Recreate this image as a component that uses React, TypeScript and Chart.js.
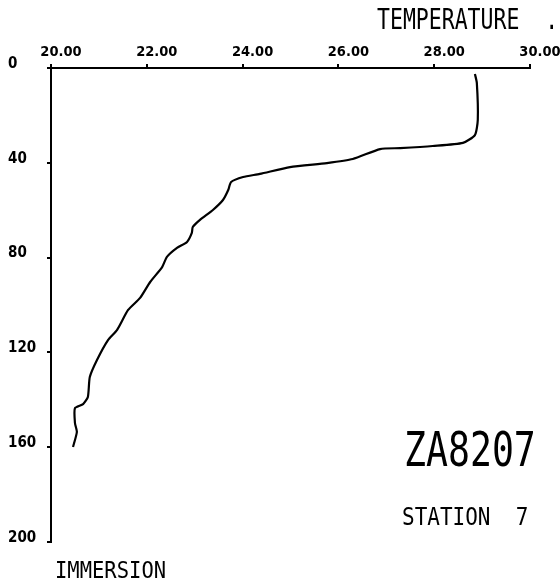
import React, { useEffect, useRef } from "react";
import { Chart, registerables } from "chart.js";

Chart.register(...registerables);

const temperature = [
  28.85, 28.89, 28.91, 28.85, 28.6, 27.97, 27.29, 26.87, 26.3, 25.76, 24.99, 24.36, 24.01,
  23.76, 23.7, 23.59, 23.38, 23.11, 22.96, 22.94, 22.84, 22.63, 22.42, 22.32, 22.07, 21.86,
  21.61, 21.38, 21.19, 20.96, 20.81, 20.77, 20.67, 20.5, 20.5, 20.54, 20.46,
];
const immersion = [
  2.5, 6.3, 21.9, 28.3, 31.6, 32.9, 33.8, 34.2, 38.4, 40.1, 41.8, 44.7, 46.0,
  48.1, 51.5, 55.7, 59.9, 64.1, 67.1, 69.6, 73.4, 75.9, 79.7, 84.0, 90.3, 97.0,
  102.1, 110.5, 114.8, 123.2, 130.4, 138.8, 141.8, 143.5, 149.8, 153.6, 159.9,
];
const xTicks = [20, 22, 24, 26, 28, 30];
const yTicks = [0, 40, 80, 120, 160, 200];

const MONO = "'DejaVu Sans Mono', monospace";
const NARROW = "'DejaVu Sans Condensed', sans-serif";

export default function App() {
  const ref = useRef<HTMLCanvasElement | null>(null);

  useEffect(() => {
    if (!ref.current) return;
    const points = temperature.map((t, i) => ({ x: t, y: immersion[i] }));
    const chart = new Chart(ref.current, {
      type: "scatter",
      data: {
        datasets: [
          {
            data: points,
            showLine: true,
            borderColor: "#000",
            borderWidth: 2.2,
            pointRadius: 0,
            tension: 0.2,
          },
        ],
      },
      options: {
        responsive: false,
        animation: false,
        layout: { padding: { left: 8, top: 0, right: 30, bottom: 46 } },
        plugins: { legend: { display: false }, tooltip: { enabled: false } },
        scales: {
          x: {
            type: "linear",
            position: "top",
            min: xTicks[0],
            max: xTicks[xTicks.length - 1],
            afterBuildTicks: (s: any) => {
              s.ticks = xTicks.map((v) => ({ value: v }));
            },
            afterFit: (s: any) => {
              s.height = 68;
            },
            ticks: {
              color: "#000",
              font: { family: NARROW, size: 14.5, weight: "bold" },
              padding: 3,
              labelOffset: 10,
              maxRotation: 0,
              callback: (v: any) => Number(v).toFixed(2),
            },
            grid: {
              display: true,
              drawOnChartArea: false,
              drawTicks: true,
              tickLength: 4,
              color: "#000",
              lineWidth: 2,
            },
            border: { display: true, color: "#000", width: 2 },
          },
          y: {
            type: "linear",
            position: "left",
            reverse: true,
            min: yTicks[0],
            max: yTicks[yTicks.length - 1],
            afterBuildTicks: (s: any) => {
              s.ticks = yTicks.map((v) => ({ value: v }));
            },
            afterFit: (s: any) => {
              s.width = 43;
            },
            ticks: {
              color: "#000",
              font: { family: NARROW, size: 15, weight: "bold" },
              crossAlign: "far",
              labelOffset: -4,
              callback: (v: any) => String(v),
            },
            grid: {
              display: true,
              drawOnChartArea: false,
              drawTicks: true,
              tickLength: 4,
              color: "#000",
              lineWidth: 2,
            },
            border: { display: true, color: "#000", width: 2 },
          },
        },
      },
    });
    return () => chart.destroy();
  }, []);

  const txt = (extra: React.CSSProperties): React.CSSProperties => ({
    position: "absolute",
    fontFamily: MONO,
    color: "#000",
    whiteSpace: "pre",
    lineHeight: 1,
    transformOrigin: "left top",
    ...extra,
  });

  return (
    <div style={{ position: "absolute", left: 0, top: 0, width: 560, height: 588, background: "#fff" }}>
      <canvas ref={ref} width={560} height={588} style={{ display: "block" }} />
      <div style={txt({ left: 377, top: 6, fontSize: 21.5, transform: "scaleY(1.3)" })}>TEMPERATURE  .</div>
      <div style={txt({ left: 55, top: 559, fontSize: 20.5, transform: "scaleY(1.1)" })}>IMMERSION</div>
      <div style={txt({ left: 404, top: 427, fontSize: 36.5, transform: "scaleY(1.3)" })}>ZA8207</div>
      <div style={txt({ left: 402, top: 505, fontSize: 21, transform: "scaleY(1.2)" })}>STATION  7</div>
    </div>
  );
}
